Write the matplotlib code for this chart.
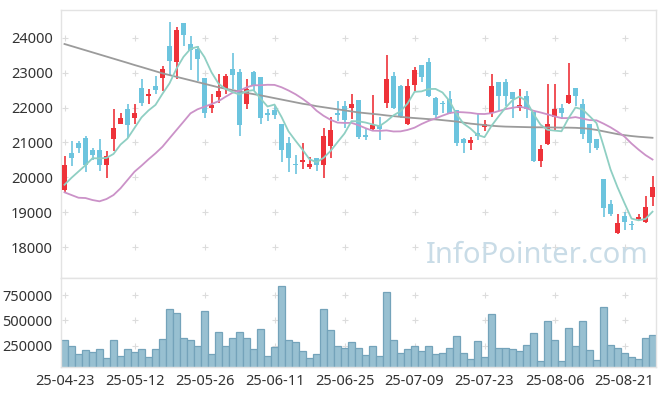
import numpy as np
import pandas as pd
import matplotlib
matplotlib.use("Agg")
import matplotlib.pyplot as plt

# ---- data ----
opens = [19651, 20705, 20992, 21116, 20772, 20772, 20369, 21088, 21519, 21950,
         21691, 22553, 22333, 22611, 22850, 23760, 23291, 24422, 23818, 23665,
         22860, 21979, 22304, 22525, 23099, 23023, 22113, 23023, 22889, 21854,
         21921, 21519, 20992, 20380, 20436, 20293, 20570, 20350, 20896, 21854,
         22055, 21979, 22209, 21190, 21375, 21509, 22142, 22898, 22611, 21519,
         22640, 23214, 23310, 22266, 22120, 22256, 21921, 21107, 20992, 21260,
         21442, 21854, 22726, 22726, 22458, 21988, 22343, 21873, 20484, 20963,
         21739, 21998, 22142, 22553, 22113, 21519, 21107, 19957, 19239, 18405,
         18884, 18660, 18808, 18731, 19440]
highs = [20609, 21040, 21040, 21183, 20848, 21107, 20752, 21950, 21854, 22113,
         22113, 22812, 22525, 22908, 23195, 24441, 24297, 24422, 24057, 23770,
         22860, 22381, 22956, 22956, 23559, 23099, 22812, 23052, 22889, 21950,
         22046, 21519, 21155, 20637, 20992, 20590, 20570, 21404, 21730, 22190,
         22190, 22400, 22209, 21394, 22352, 21730, 23502, 23023, 22659, 22812,
         23167, 23214, 23406, 22304, 22190, 22477, 21921, 21136, 21164, 21835,
         21643, 22956, 22726, 22812, 22458, 22544, 22477, 21873, 20915, 22668,
         22668, 22113, 23272, 22553, 22256, 21519, 21107, 19957, 19363, 18961,
         18999, 18741, 18961, 19459, 20053]
lows = [19574, 20321, 20705, 20158, 20513, 20187, 19986, 20752, 21519, 21136,
        21519, 22046, 22113, 22381, 22477, 22908, 22812, 23770, 23080, 22764,
        21710, 21854, 22142, 22381, 22525, 21183, 21950, 22477, 21519, 21615,
        21662, 20446, 20158, 20101, 20245, 20245, 20178, 19986, 20561, 21615,
        21404, 21662, 21107, 21069, 21327, 21059, 21998, 21950, 21710, 21490,
        22477, 22735, 22314, 21662, 21854, 21806, 20896, 20705, 20772, 21059,
        21327, 21730, 21902, 22046, 21710, 21902, 21710, 20436, 20293, 20940,
        21356, 21662, 22113, 22046, 21088, 20705, 20772, 18865, 18884, 18380,
        18501, 18501, 18769, 18693, 19172]
closes = [20369, 20542, 20839, 20369, 20628, 20350, 20609, 21404, 21710, 21500,
          21854, 22122, 22400, 22506, 23099, 23339, 24230, 24086, 23655, 23387,
          21854, 22065, 22467, 22898, 22937, 21500, 22544, 22620, 21701, 21787,
          21777, 20781, 20551, 20360, 20513, 20398, 20350, 21174, 21346, 21777,
          21643, 22113, 21155, 21170, 21509, 21394, 22812, 21998, 21758, 22611,
          23071, 22879, 22333, 21777, 22100, 21854, 20992, 20992, 21059, 21183,
          21538, 22611, 22324, 22324, 22256, 22065, 21950, 20484, 20800, 21519,
          21950, 21854, 22352, 22333, 21251, 20992, 20848, 19114, 18951, 18693,
          18712, 18640, 18865, 19153, 19727]
volumes = [309500, 250000, 170600, 203400, 183500, 220200, 130900, 309500, 143900, 220200,
           183500, 220200, 140900, 220200, 319400, 607100, 567400, 329300, 309500, 243000,
           587300, 170600, 378900, 250000, 329300, 378900, 329300, 220200, 408700, 150800,
           240000, 838300, 309500, 289700, 193500, 130900, 170600, 607100, 408400, 249700,
           229900, 289400, 229900, 160400, 249700, 150500, 775500, 309200, 180300, 219900,
           249700, 200100, 249700, 170300, 180300, 229900, 348900, 180300, 120700, 299300,
           140600, 557300, 229900, 229900, 219900, 200100, 259600, 378700, 100900, 497700,
           309200, 100900, 428300, 249700, 497700, 210000, 110800, 626700, 259600, 229900,
           180300, 140600, 120700, 329100, 358800]
# moving-average values before enough closes are visible
ma5_head = [19790, 19990, 20170, 20350]
ma20_head = [19574, 19496, 19419, 19410, 19353, 19316, 19382, 19496, 19688, 19926,
             20164, 20336, 20519, 20690, 20880, 21120, 21358, 21595, 21835]
ma_long = [23820, 23760, 23700, 23640, 23580, 23520, 23460, 23400, 23340, 23280,
           23218, 23160, 23100, 23040, 22980, 22930, 22880, 22830, 22780, 22730,
           22680, 22630, 22580, 22540, 22500, 22460, 22420, 22385, 22350, 22310,
           22270, 22230, 22190, 22150, 22110, 22080, 22040, 22010, 21980, 21950,
           21920, 21890, 21860, 21840, 21820, 21800, 21775, 21755, 21735, 21715,
           21700, 21685, 21670, 21660, 21640, 21620, 21600, 21570, 21540, 21520,
           21500, 21480, 21465, 21455, 21450, 21445, 21440, 21435, 21435, 21430,
           21430, 21425, 21425, 21420, 21410, 21390, 21360, 21320, 21280, 21240,
           21210, 21185, 21165, 21150, 21135]
tick_index = [0, 10, 20, 30, 40, 50, 60, 70, 80]
tick_labels = ["25-04-23", "25-05-12", "25-05-26", "25-06-11", "25-06-25",
               "25-07-09", "25-07-23", "25-08-06", "25-08-21"]
price_ticks = [18000, 19000, 20000, 21000, 22000, 23000, 24000]
vol_ticks = [250000, 500000, 750000]

# ---- derived ----
o = np.array(opens, float); h = np.array(highs, float)
l = np.array(lows, float); c = np.array(closes, float)
n = len(c)
x = np.arange(n)
cs = pd.Series(c)
ma5 = cs.rolling(5).mean().to_numpy()
ma5[:4] = ma5_head
ma20 = cs.rolling(20).mean().to_numpy()
ma20[:19] = ma20_head

plt.rcParams['font.family'] = ['Noto Sans', 'DejaVu Sans']
fig = plt.figure(figsize=(6.65, 3.96), dpi=100)
ax = fig.add_axes([61/665, 1-278/396, 595/665, 268/396])
axv = fig.add_axes([61/665, 1-367/396, 595/665, 89/396])

RED = '#ee3239'
BLUE = '#6cc4de'
up = c >= o
colors = np.where(up, RED, BLUE)
body_lo = np.minimum(o, c)
body_h = np.maximum(np.abs(c - o), 35)

# grid '+' markers
gx, gy = np.meshgrid(tick_index, price_ticks)
ax.scatter(gx.ravel(), gy.ravel(), marker='+', s=18, color='#dcdcdc', linewidths=0.8, zorder=0)
gx2, gy2 = np.meshgrid(tick_index, vol_ticks)
axv.scatter(gx2.ravel(), gy2.ravel(), marker='+', s=18, color='#dcdcdc', linewidths=0.8, zorder=0)

ax.vlines(x, l, h, colors=colors, linewidth=1.2, zorder=2)
ax.bar(x, body_h, bottom=body_lo, width=0.62, color=colors, zorder=3, linewidth=0)

ax.plot(x, ma_long, color='#9b9b9b', lw=1.3, zorder=4)
ax.plot(x, ma20, color='#cb92c8', lw=1.3, zorder=4)
ax.plot(x, ma5, color='#8fcfc3', lw=1.3, zorder=4)

ax.text(0.987, 0.085, 'InfoPointer.com', transform=ax.transAxes, ha='right', va='center',
        fontsize=21, color='#c9dce7', zorder=1)

ax.set_xlim(-0.5, n - 0.5)
ax.set_ylim(17121, 24793)
ax.set_yticks(price_ticks)
ax.set_yticklabels([str(t) for t in price_ticks])
ax.set_xticks([])

axv.bar(x, volumes, width=1.0, color='#98c0d1', edgecolor='#74a3ba', linewidth=0.9, zorder=2)
axv.set_xlim(-0.5, n - 0.5)
axv.set_ylim(37000, 919000)
axv.set_yticks(vol_ticks)
axv.set_yticklabels([str(t) for t in vol_ticks])
axv.set_xticks(tick_index)
axv.set_xticklabels(tick_labels)

for a in (ax, axv):
    for s in a.spines.values():
        s.set_color('#e3e3e3')
        s.set_linewidth(1.0)
    a.tick_params(length=0, labelsize=10.5, colors='#333333', pad=6)
axv.tick_params(axis='x', pad=5)

fig.savefig('out.png', dpi=100)
